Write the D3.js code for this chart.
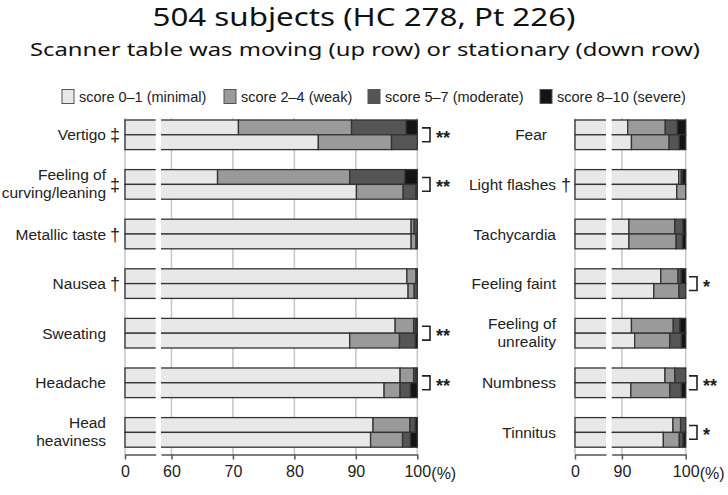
<!DOCTYPE html>
<html><head><meta charset="utf-8">
<script src="https://cdn.jsdelivr.net/npm/d3@7"></script>
<style>body{margin:0;background:#fff}</style>
</head><body><svg id="c" width="728" height="495"></svg>
<script>
// ---------- DATA ----------
const titleText = "504 subjects (HC 278, Pt 226)";
const subtitleText = "Scanner table was moving (up row) or stationary (down row)";
const scoreLevels = ["score 0–1 (minimal)", "score 2–4 (weak)", "score 5–7 (moderate)", "score 8–10 (severe)"];
const levelColors = ["#e8e8e8", "#9a9a9a", "#555555", "#141414"];

const leftCategories = ["Vertigo", "Feeling of curving/leaning", "Metallic taste", "Nausea", "Sweating", "Headache", "Head heaviness"];
const leftLabelLines = [["Vertigo"], ["Feeling of", "curving/leaning"], ["Metallic taste"], ["Nausea"], ["Sweating"], ["Headache"], ["Head", "heaviness"]];
const leftMarks = ["‡", "‡", "†", "†", "", "", ""];
const leftSig = ["**", "**", "", "", "**", "**", ""];
// % of subjects per score level (minimal, weak, moderate, severe)
const leftMoving = [
  [70.9, 18.4, 8.9, 1.8],
  [67.5, 21.5, 9.0, 2.0],
  [99.0, 0.5, 0.5, 0.0],
  [98.3, 1.5, 0.2, 0.0],
  [96.4, 3.0, 0.4, 0.2],
  [97.2, 2.2, 0.4, 0.2],
  [92.8, 6.0, 0.9, 0.3]
];
const leftStationary = [
  [83.9, 11.9, 4.2, 0.0],
  [90.1, 7.6, 2.1, 0.2],
  [99.0, 0.8, 0.2, 0.0],
  [98.5, 1.0, 0.5, 0.0],
  [89.0, 8.1, 2.6, 0.3],
  [94.6, 2.6, 1.7, 1.1],
  [92.4, 5.2, 1.3, 1.1]
];
const leftTicks = [60, 70, 80, 90, 100];

const rightCategories = ["Fear", "Light flashes", "Tachycardia", "Feeling faint", "Feeling of unreality", "Numbness", "Tinnitus"];
const rightLabelLines = [["Fear"], ["Light flashes"], ["Tachycardia"], ["Feeling faint"], ["Feeling of", "unreality"], ["Numbness"], ["Tinnitus"]];
const rightMarks = ["", "†", "", "", "", "", ""];
const rightSig = ["", "", "", "*", "", "**", "*"];
const rightMoving = [
  [90.9, 5.9, 1.9, 1.3],
  [98.9, 0.4, 0.2, 0.5],
  [91.1, 7.2, 1.3, 0.4],
  [96.1, 2.7, 0.5, 0.7],
  [91.5, 6.55, 1.05, 0.9],
  [96.75, 1.55, 1.7, 0.0],
  [98.0, 1.2, 0.8, 0.0]
];
const rightStationary = [
  [91.5, 5.9, 1.6, 1.0],
  [98.6, 1.4, 0.0, 0.0],
  [91.1, 7.4, 1.0, 0.5],
  [95.0, 3.95, 1.05, 0.0],
  [92.0, 5.5, 1.85, 0.65],
  [91.4, 6.1, 1.85, 0.65],
  [96.5, 2.5, 0.6, 0.4]
];
const rightTicks = [90, 100];

// ---------- DRAW ----------
const svg = d3.select("#c");
const FONT = "'Liberation Sans', Arial, Helvetica, sans-serif";
const ink = "#222";
const barStroke = "#333";
const gridColor = "#c9c9c9";

svg.append("text").attr("x", 364).attr("y", 26).attr("text-anchor", "middle")
  .attr("font-family", "'Noto Sans', sans-serif").attr("font-size", 25).attr("fill", "#111")
  .attr("textLength", 423).attr("lengthAdjust", "spacingAndGlyphs").text(titleText);
svg.append("text").attr("x", 365).attr("y", 56).attr("text-anchor", "middle")
  .attr("font-family", "'Noto Sans', sans-serif").attr("font-size", 18.5).attr("fill", "#111")
  .attr("textLength", 670).attr("lengthAdjust", "spacingAndGlyphs").text(subtitleText);

// legend
const legendX = [62, 224, 368, 540];
const lg = svg.append("g");
scoreLevels.forEach((s, i) => {
  lg.append("rect").attr("x", legendX[i]).attr("y", 89.5).attr("width", 12).attr("height", 14)
    .attr("fill", levelColors[i]).attr("stroke", "#555").attr("stroke-width", 1);
  lg.append("text").attr("x", legendX[i] + 17).attr("y", 102).attr("font-family", FONT)
    .attr("font-size", 14.5).attr("fill", ink).text(s);
});

let clipId = 0;
function drawPanel(o) {
  const g = svg.append("g");
  const y = d3.scaleBand().domain(o.categories).range([120, 447.2]).paddingInner(0.403).paddingOuter(0);
  const bh = y.bandwidth() / 2;
  const x1 = d3.scaleLinear().domain([0, 5]).range(o.p1Range);
  const x2 = d3.scaleLinear().domain(o.p2Domain).range(o.p2Range);
  const axisY = 454.5;

  // gridlines
  const gl = g.append("g");
  gl.append("line").attr("x1", x1(0)).attr("x2", x1(0)).attr("y1", 118).attr("y2", axisY)
    .attr("stroke", gridColor).attr("stroke-width", 1.6);
  o.ticks.forEach(t => {
    gl.append("line").attr("x1", x2(t)).attr("x2", x2(t)).attr("y1", 118).attr("y2", axisY)
      .attr("stroke", gridColor).attr("stroke-width", 1.6);
  });

  // clip paths
  const c1 = "clip" + (clipId++), c2 = "clip" + (clipId++);
  const defs = svg.append("defs");
  defs.append("clipPath").attr("id", c1).append("rect")
    .attr("x", o.p1Range[0] - 1).attr("y", 100).attr("width", o.p1Range[1] - o.p1Range[0] + 1).attr("height", 360);
  defs.append("clipPath").attr("id", c2).append("rect")
    .attr("x", o.p2Range[0]).attr("y", 100).attr("width", o.p2Range[1] - o.p2Range[0] + 1.5).attr("height", 360);

  const rows = [];
  o.categories.forEach((c, i) => {
    rows.push({ cat: c, row: 0, vals: o.moving[i] });
    rows.push({ cat: c, row: 1, vals: o.stationary[i] });
  });

  // piece 1 (0 .. break)
  const p1 = g.append("g").attr("clip-path", `url(#${c1})`);
  rows.forEach(r => {
    p1.append("rect").attr("x", x1(0)).attr("width", x1(100) - x1(0))
      .attr("y", y(r.cat) + r.row * bh).attr("height", bh)
      .attr("fill", levelColors[0]).attr("stroke", barStroke).attr("stroke-width", 1.3);
  });
  // piece 2 (break .. 100)
  const p2 = g.append("g").attr("clip-path", `url(#${c2})`);
  rows.forEach(r => {
    let acc = 0;
    r.vals.forEach((v, k) => {
      const a = acc, b = acc + v;
      acc = b;
      if (v <= 0) return;
      const xa = k === 0 ? x2(0) : x2(a);
      p2.append("rect").attr("x", xa).attr("width", x2(b) - xa)
        .attr("y", y(r.cat) + r.row * bh).attr("height", bh)
        .attr("fill", levelColors[k]).attr("stroke", barStroke).attr("stroke-width", 1.3);
    });
  });

  // axes
  const fmt = d3.format("d");
  const ax1 = g.append("g").attr("transform", `translate(0,${axisY})`)
    .call(d3.axisBottom(x1).tickValues([0]).tickFormat(fmt).tickSize(5).tickSizeOuter(0).tickPadding(6));
  const ax2 = g.append("g").attr("transform", `translate(0,${axisY})`)
    .call(d3.axisBottom(x2).tickValues(o.ticks).tickFormat(fmt).tickSize(5).tickSizeOuter(0).tickPadding(6));
  [ax1, ax2].forEach(a => {
    a.select(".domain").attr("stroke", "#555").attr("stroke-width", 1.5);
    a.selectAll(".tick line").attr("stroke", "#555").attr("stroke-width", 1.5);
    a.selectAll(".tick text").attr("font-family", FONT).attr("font-size", 16).attr("fill", ink);
  });
  g.append("text").attr("x", x2(100) + 14).attr("y", 479).attr("font-family", FONT)
    .attr("font-size", 16).attr("fill", ink).text("(%)");

  // labels
  o.categories.forEach((c, i) => {
    const cy = y(c) + y.bandwidth() / 2;
    const lines = o.labelLines[i];
    const lx = (o.labelXs && o.labelXs[i]) || o.labelX;
    lines.forEach((ln, j) => {
      const by = lines.length === 1 ? cy + 5.5 : cy - 4 + j * 18;
      g.append("text").attr("x", lx).attr("y", by).attr("text-anchor", "end")
        .attr("font-family", FONT).attr("font-size", 15.5).attr("fill", ink).text(ln);
    });
    if (o.marks[i]) {
      g.append("text").attr("x", o.markX).attr("y", cy + 6.5).attr("text-anchor", "middle")
        .attr("font-family", FONT).attr("font-size", 18).attr("fill", ink).text(o.marks[i]);
    }
    if (o.sig[i]) {
      const ya = y(c) + bh / 2 + 0.5, yb = y(c) + bh * 1.5 - 0.5;
      const bx0 = o.sigX, bx1 = o.sigX + 8;
      g.append("path").attr("d", `M${bx0},${ya}H${bx1}V${yb}H${bx0}`)
        .attr("fill", "none").attr("stroke", "#222").attr("stroke-width", 1.6);
      g.append("text").attr("x", bx1 + 6).attr("y", cy + 9).attr("font-family", FONT)
        .attr("font-size", 18).attr("font-weight", "bold").attr("fill", ink).text(o.sig[i]);
    }
  });
}

drawPanel({
  categories: leftCategories, labelLines: leftLabelLines, marks: leftMarks, sig: leftSig,
  moving: leftMoving, stationary: leftStationary, ticks: leftTicks,
  p1Range: [125, 155.7], p2Domain: [58.3, 100], p2Range: [161, 417.3],
  labelX: 106, markX: 115, sigX: 422
});
drawPanel({
  categories: rightCategories, labelLines: rightLabelLines, marks: rightMarks, sig: rightSig,
  moving: rightMoving, stationary: rightStationary, ticks: rightTicks,
  p1Range: [575, 606], p2Domain: [88.4, 100], p2Range: [611.7, 685.7],
  labelX: 556, labelXs: [547], markX: 566, sigX: 689
});
</script>
</body></html>
